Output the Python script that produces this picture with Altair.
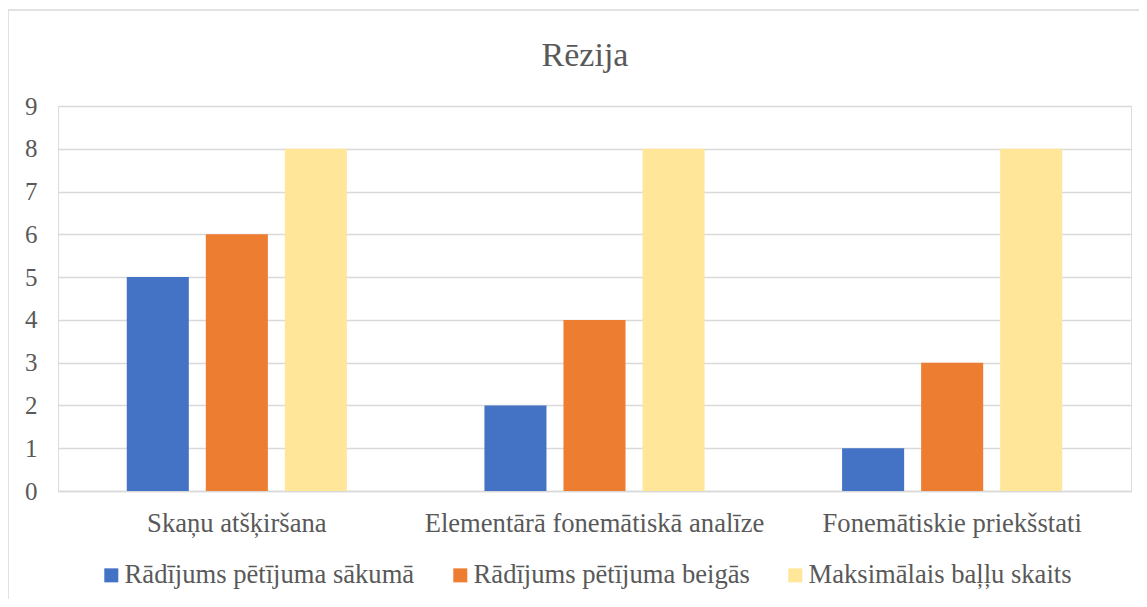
import altair as alt
import pandas as pd

categories = ["Skaņu atšķiršana", "Elementārā fonemātiskā analīze", "Fonemātiskie priekšstati"]
series_names = ["Rādījums pētījuma sākumā", "Rādījums pētījuma beigās", "Maksimālais baļļu skaits"]
start_values = [5, 2, 1]
end_values = [6, 4, 3]
max_values = [8, 8, 8]
colors = ["#4472C4", "#ED7D31", "#FFE699"]
chart_title = "Rēzija"

rows = []
for i, c in enumerate(categories):
    for s, vals in zip(series_names, [start_values, end_values, max_values]):
        rows.append({"category": c, "series": s, "value": vals[i]})
df = pd.DataFrame(rows)

FONT = "Times New Roman, Liberation Serif, serif"
GRAY = "#595959"
W, H = 1073, 385

bars = alt.Chart(df).mark_bar().encode(
    x=alt.X("category:N", sort=categories, title=None,
            scale=alt.Scale(paddingInner=0, paddingOuter=0),
            axis=alt.Axis(labelAngle=0, labelFontSize=26.6, labelFont=FONT, labelColor=GRAY,
                          labelLimit=0, ticks=False, domainColor="#D9D9D9", domainWidth=1.5,
                          labelPadding=19, grid=False)),
    xOffset=alt.XOffset("series:N", sort=series_names,
                        scale=alt.Scale(paddingInner=0.215, paddingOuter=0.87)),
    y=alt.Y("value:Q", title=None,
            scale=alt.Scale(domain=[0, 9], nice=False),
            axis=alt.Axis(values=list(range(10)), labelFontSize=25, labelFont=FONT,
                          labelColor=GRAY, ticks=False, domain=False, labelPadding=21,
                          gridColor="#D9D9D9", gridWidth=1.5)),
    color=alt.Color("series:N", sort=series_names,
                    scale=alt.Scale(domain=series_names, range=colors),
                    legend=alt.Legend(title=None, orient="none", direction="horizontal",
                                      legendX=40, legendY=456,
                                      symbolType="square", symbolSize=196,
                                      symbolStrokeWidth=0, labelLimit=0,
                                      labelFontSize=26.6, labelFont=FONT, labelColor=GRAY,
                                      labelOffset=0, columnPadding=32)),
)

frame = alt.Chart(pd.DataFrame({"a": [0]})).mark_rect(
    fill=None, stroke="#D9D9D9", strokeWidth=1.5
).encode(
    x=alt.value(-50), x2=alt.value(1150), y=alt.value(-96), y2=alt.value(700)
)

title = alt.Chart(pd.DataFrame({"t": [chart_title]})).mark_text(
    font=FONT, fontSize=34, color=GRAY, align="center", baseline="alphabetic"
).encode(
    text="t:N", x=alt.value(527), y=alt.value(-40)
)

chart = alt.layer(frame, bars, title).properties(
    width=W, height=H,
    autosize=alt.AutoSizeParams(type="none"),
    padding={"left": 50, "top": 98, "right": 8, "bottom": 108},
).configure_view(stroke=None).configure(background="white", font=FONT)

chart.save("out.html", embed_options={"renderer": "svg", "actions": False})
